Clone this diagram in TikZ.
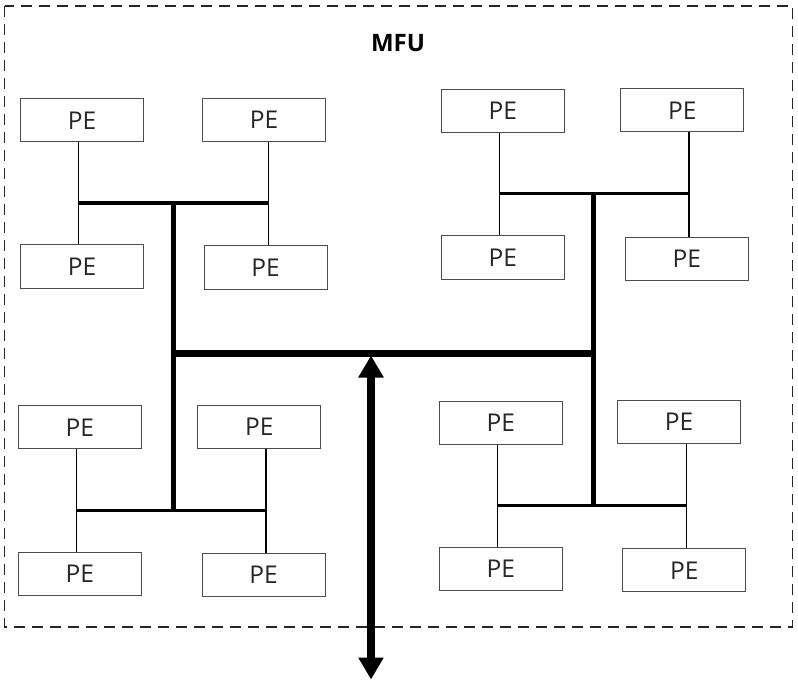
\documentclass[tikz,border=0pt]{standalone}
\usepackage{fontspec}
\setmainfont{Open Sans}
\usetikzlibrary{arrows.meta}
\begin{document}
\begin{tikzpicture}[x=1pt,y=-1pt,
  pe/.style={draw=black!70, line width=1pt, minimum width=123pt, minimum height=43pt, inner sep=0pt, font=\fontsize{24.5}{28}\selectfont, text=black!85},
  thin/.style={line width=1.4pt},
  bus/.style={line width=3.2pt},
  trunk/.style={line width=5pt},
  main/.style={line width=7pt},
  frame/.style={draw=black!85, line width=1.6pt, dash pattern=on 11pt off 7pt}]
\useasboundingbox (0,0) rectangle (798,687);
\draw[frame] (4.5,6) rectangle (792.5,626.7);
\node[font=\bfseries\fontsize{24}{28}\selectfont] (mfu) at (398,43) {MFU};
% top-left group
\node[pe] (tl1) at (82,120.5) {PE};
\node[pe] (tl2) at (264,120) {PE};
\node[pe] (tl3) at (82,266.5) {PE};
\node[pe] (tl4) at (265.5,267.5) {PE};
% top-right group
\node[pe] (tr1) at (502.7,111) {PE};
\node[pe] (tr2) at (682.3,110.5) {PE};
\node[pe] (tr3) at (502.7,257.5) {PE};
\node[pe] (tr4) at (686.7,258.7) {PE};
% bottom-left group
\node[pe] (bl1) at (79.7,427.3) {PE};
\node[pe] (bl2) at (259.2,426.5) {PE};
\node[pe] (bl3) at (79.7,573.7) {PE};
\node[pe] (bl4) at (263.5,574.7) {PE};
% bottom-right group
\node[pe] (br1) at (500.7,422.8) {PE};
\node[pe] (br2) at (679,422) {PE};
\node[pe] (br3) at (500.7,569.2) {PE};
\node[pe] (br4) at (684.3,570.3) {PE};
% junction coordinates
\coordinate (tlA) at (78.7,203);
\coordinate (tlB) at (268.3,203);
\coordinate (tlC) at (173.3,203);
\coordinate (trA) at (499.3,193.3);
\coordinate (trB) at (689,193.3);
\coordinate (trC) at (593.3,193.3);
\coordinate (blA) at (76.7,510.7);
\coordinate (blB) at (266,510.7);
\coordinate (blC) at (173.3,510.7);
\coordinate (brA) at (497.7,505.3);
\coordinate (brB) at (686.7,505.3);
\coordinate (brC) at (593.3,505.3);
\coordinate (mL) at (173.3,353.3);
\coordinate (mR) at (593.3,353.3);
\coordinate (aT) at (371,355.5);
\coordinate (aB) at (371,679.5);
% thin connectors
\draw[thin] (tl1.south -| tlA) -- (tl3.north -| tlA);
\draw[thin] (tl2.south -| tlB) -- (tl4.north -| tlB);
\draw[thin] (tr1.south -| trA) -- (tr3.north -| trA);
\draw[thin] (tr2.south -| trB) -- (tr4.north -| trB);
\draw[thin] (bl1.south -| blA) -- (bl3.north -| blA);
\draw[thin] (bl2.south -| blB) -- (bl4.north -| blB);
\draw[thin] (br1.south -| brA) -- (br3.north -| brA);
\draw[thin] (br2.south -| brB) -- (br4.north -| brB);
% group buses
\draw[bus] (tlA) -- (tlB);
\draw[bus] (trA) -- (trB);
\draw[bus] (blA) -- (blB);
\draw[bus] (brA) -- (brB);
% trunks
\draw[trunk] (tlC) -- (blC);
\draw[trunk] (trC) -- (brC);
\draw[main] ([xshift=-2.5pt]mL) -- ([xshift=2.5pt]mR);
% double arrow
\draw[line width=7.5pt, {Triangle[width=24pt,length=22pt]}-{Triangle[width=24pt,length=22pt]}] (aT) -- (aB);
\end{tikzpicture}
\end{document}
